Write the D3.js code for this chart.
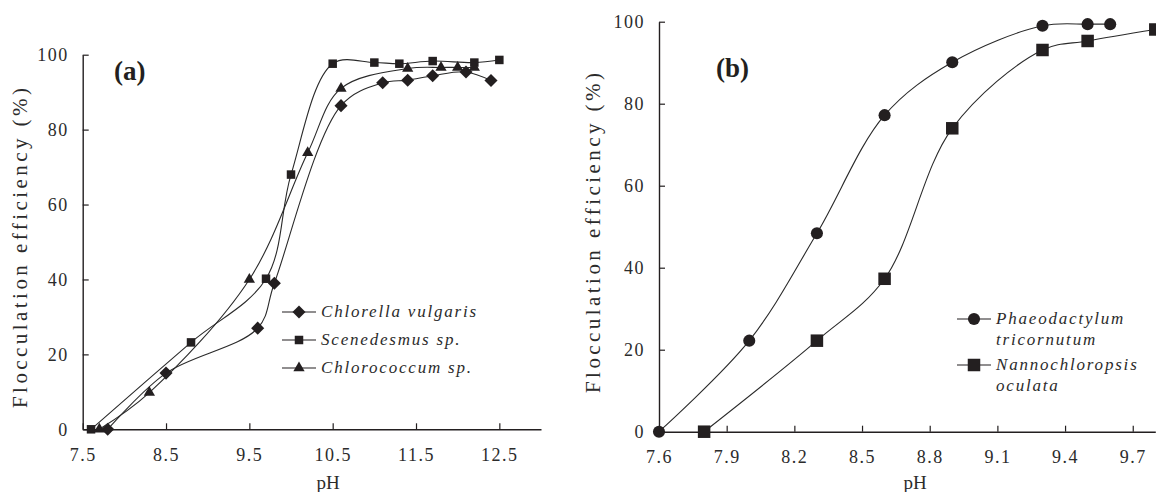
<!DOCTYPE html>
<html>
<head>
<meta charset="utf-8">
<script src="https://cdn.jsdelivr.net/npm/d3@7"></script>
<style>
  body { margin: 0; background: #fff; }
  svg { display: block; }
</style>
</head>
<body>
<div id="chart"></div>
<script>
// panel (a) data
const xTicksA = [7.5, 8.5, 9.5, 10.5, 11.5, 12.5];
const chlorellaPH = [7.8, 8.5, 9.6, 9.8, 10.6, 11.1, 11.4, 11.7, 12.1, 12.4];
const chlorellaEff = [0, 15, 27, 39, 86.4, 92.5, 93.2, 94.4, 95.4, 93.1];
const scenedesmusPH = [7.6, 8.8, 9.7, 10.0, 10.5, 11.0, 11.3, 11.7, 12.2, 12.5];
const scenedesmusEff = [0, 23.2, 40.2, 68, 97.6, 97.9, 97.6, 98.3, 97.9, 98.6];
const chlorococcumPH = [7.7, 8.3, 9.5, 10.2, 10.6, 11.4, 11.8, 12.0, 12.2];
const chlorococcumEff = [0, 9.8, 40, 73.8, 91, 96.3, 96.6, 96.6, 96.6];

// panel (b) data
const xTicksB = [7.6, 7.9, 8.2, 8.5, 8.8, 9.1, 9.4, 9.7];
const phaeoPH = [7.6, 8.0, 8.3, 8.6, 8.9, 9.3, 9.5, 9.6];
const phaeoEff = [0, 22.2, 48.4, 77.2, 90.1, 99, 99.4, 99.4];
const nannoPH = [7.8, 8.3, 8.6, 8.9, 9.3, 9.5, 9.8];
const nannoEff = [0, 22.2, 37.3, 74, 93.1, 95.3, 98.1];

const yTicks = [0, 20, 40, 60, 80, 100];
const yLabel = 'Flocculation  efficiency (%)';

const width = 1156;
const height = 492;
const ink = '#231f20';

const svg = d3.select('#chart').append('svg').attr('width', width).attr('height', height);

const zip = (xs, ys) => xs.map((x, i) => ({ x: x, y: ys[i] }));

// marker shapes
function marker(g, kind, size) {
  if (kind == 'square') {
    g.append('rect').attr('x', -size / 2).attr('y', -size / 2).attr('width', size).attr('height', size).attr('fill', ink);
  } else {
    const types = { diamond: d3.symbolDiamond2, triangle: d3.symbolTriangle2, circle: d3.symbolCircle };
    g.append('path').attr('d', d3.symbol(types[kind], size * size * (kind == 'circle' ? 0.8 : kind == 'diamond' ? 0.9 : 0.75))()).attr('fill', ink);
  }
}

function drawPanel(p) {
  const x = d3.scaleLinear().domain(p.xDomain).range(p.xRange);
  const y = d3.scaleLinear().domain([0, 100]).range(p.yRange);
  const g = svg.append('g');

  // x axis, ticks inward
  const xa = g.append('g').attr('transform', `translate(0, ${p.yRange[0]})`)
    .call(d3.axisBottom(x).tickValues(p.xTicks).tickFormat(d3.format('.1f')).tickSizeInner(-6).tickSizeOuter(0).tickPadding(19));
  // y axis, ticks inward
  const ya = g.append('g').attr('transform', `translate(${p.xRange[0]}, 0)`)
    .call(d3.axisLeft(y).tickValues(yTicks).tickSizeInner(-6).tickSizeOuter(0).tickPadding(14));
  [xa, ya].forEach(a => {
    a.select('.domain').attr('stroke', ink).attr('stroke-width', 1.4);
    a.selectAll('.tick line').attr('stroke', ink).attr('stroke-width', 1.2);
    a.selectAll('text').attr('fill', '#2b2b2b').attr('font-family', 'Liberation Serif').attr('font-size', 18).attr('letter-spacing', 1.5);
    a.attr('font-family', null).attr('font-size', null);
  });

  // axis titles
  g.append('text').attr('x', p.pHx).attr('y', 489).attr('text-anchor', 'middle')
    .attr('font-family', 'Liberation Serif').attr('font-size', 19).attr('fill', '#2b2b2b').text('pH');
  g.append('text').attr('transform', `translate(${p.labelX}, ${p.labelY}) rotate(-90)`).attr('text-anchor', 'middle')
    .attr('font-family', 'Liberation Serif').attr('font-size', 21).attr('fill', '#2b2b2b')
    .attr('textLength', 320).attr('lengthAdjust', 'spacing').attr('dy', '0.35em').text(yLabel);

  // panel letter
  g.append('text').attr('x', p.tag[0]).attr('y', p.tag[1]).attr('font-family', 'Liberation Serif')
    .attr('font-weight', 'bold').attr('font-size', 27).attr('fill', ink).text(p.tagText);

  const line = d3.line().x(d => x(d.x)).y(d => y(d.y)).curve(d3.curveCatmullRom.alpha(0.5));

  p.series.forEach(s => {
    const pts = zip(s.ph, s.eff);
    g.append('path').datum(pts).attr('d', line).attr('fill', 'none').attr('stroke', '#2a2a2a').attr('stroke-width', 1.1);
    g.selectAll(null).data(pts).enter().append('g')
      .attr('transform', d => `translate(${x(d.x)}, ${y(d.y)})`)
      .each(function () { marker(d3.select(this), s.shape, s.size); });
  });

  // legend
  p.series.forEach((s, i) => {
    const ly = p.legendY[i];
    const lg = g.append('g').attr('transform', `translate(${p.legendX}, ${ly})`);
    lg.append('line').attr('x1', -17).attr('x2', 17).attr('stroke', ink).attr('stroke-width', 1.1);
    marker(lg, s.shape, s.size);
    s.name.forEach((t, j) => {
      lg.append('text').attr('x', 22).attr('y', 5 + j * 21).attr('font-family', 'Liberation Serif')
        .attr('font-style', 'italic').attr('font-size', 17).attr('letter-spacing', 1.8).attr('fill', '#2b2b2b').text(t);
    });
  });
}

drawPanel({
  xDomain: [7.5, 13], xRange: [82.7, 541], yRange: [429.3, 54.7], xTicks: xTicksA,
  pHx: 328, labelX: 20, labelY: 248, tag: [114, 80], tagText: '(a)',
  legendX: 299, legendY: [312, 340, 368],
  series: [
    { name: ['Chlorella vulgaris'], ph: chlorellaPH, eff: chlorellaEff, shape: 'diamond', size: 11 },
    { name: ['Scenedesmus sp.'], ph: scenedesmusPH, eff: scenedesmusEff, shape: 'square', size: 8.5 },
    { name: ['Chlorococcum sp.'], ph: chlorococcumPH, eff: chlorococcumEff, shape: 'triangle', size: 11 }
  ]
});

drawPanel({
  xDomain: [7.6, 9.8], xRange: [659, 1155.3], yRange: [431.7, 21.7], xTicks: xTicksB,
  pHx: 915, labelX: 593, labelY: 233, tag: [716, 77], tagText: '(b)',
  legendX: 974, legendY: [319, 365],
  series: [
    { name: ['Phaeodactylum', 'tricornutum'], ph: phaeoPH, eff: phaeoEff, shape: 'circle', size: 12 },
    { name: ['Nannochloropsis', 'oculata'], ph: nannoPH, eff: nannoEff, shape: 'square', size: 12.5 }
  ]
});
</script>
</body>
</html>
